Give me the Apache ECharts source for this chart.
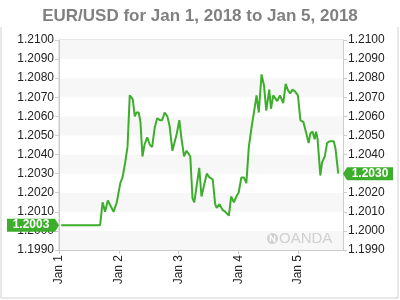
<!DOCTYPE html>
<html>
<head>
<meta charset="utf-8">
<script src="https://cdn.jsdelivr.net/npm/echarts@6/dist/echarts.min.js"></script>
<style>html,body{margin:0;padding:0;background:#fff}#c{width:400px;height:300px}</style>
</head>
<body>
<div id="c"></div>
<script>
// hours since Jan 1 2018 00:00
var hours = [0.9,16.5,17.5,18.5,19.6,20.3,21.9,23.2,24.6,25.5,26.6,27.5,28.4,29.6,30.4,31.1,32.0,32.7,33.5,34.3,35.4,36.5,37.4,38.4,39.4,40.5,41.4,42.4,43.5,44.4,45.5,46.5,47.3,48.3,49.1,50.2,51.2,51.8,52.7,53.6,54.3,56.3,57.2,59.3,60.4,61.7,62.7,63.3,64.4,65.7,66.8,68.2,69.1,70.2,71.2,72.1,73.2,74.2,75.2,76.2,77.5,78.6,79.3,80.2,81.3,82.3,83.2,84.4,85.1,86.0,86.7,87.6,88.7,89.4,90.0,91.0,91.8,92.8,93.7,94.8,95.9,96.9,98.1,99.1,100.2,100.9,101.8,102.6,103.2,103.8,104.9,105.6,106.7,107.6,108.6,109.4,110.3,111.0,112.1];
var rates = [1.2003,1.2003,1.2015,1.2010,1.2016,1.2016,1.2010,1.2015,1.2025,1.2028,1.2036,1.2044,1.2071,1.2069,1.2060,1.2062,1.2062,1.2057,1.2039,1.2045,1.2049,1.2045,1.2044,1.2054,1.2059,1.2058,1.2058,1.2062,1.2060,1.2055,1.2042,1.2047,1.2051,1.2058,1.2049,1.2039,1.2042,1.2042,1.2039,1.2017,1.2015,1.2033,1.2018,1.2030,1.2028,1.2027,1.2014,1.2012,1.2014,1.2011,1.2010,1.2008,1.2018,1.2015,1.2018,1.2020,1.2028,1.2028,1.2025,1.2044,1.2056,1.2065,1.2071,1.2062,1.2082,1.2076,1.2063,1.2074,1.2064,1.2071,1.2070,1.2068,1.2071,1.2070,1.2067,1.2077,1.2074,1.2072,1.2074,1.2073,1.2071,1.2058,1.2057,1.2052,1.2046,1.2051,1.2052,1.2048,1.2052,1.2048,1.2029,1.2036,1.2039,1.2046,1.2047,1.2046,1.2047,1.2043,1.2030];
var dayTicks = [0,24,48,72,96];
var dayLabels = ['Jan 1','Jan 2','Jan 3','Jan 4','Jan 5'];
var titleText = 'EUR/USD for Jan 1, 2018 to Jan 5, 2018';
var openLabel = '1.2003';
var lastLabel = '1.2030';

var FONT = '"Liberation Sans", Arial, sans-serif';
var GREEN = '#3dae2b';
var chart = echarts.init(document.getElementById('c'));
var seriesData = hours.map(function(h,i){return [h, rates[i]];});

var yCommon = {
  type:'value', min:1.199, max:1.21, interval:0.001,
  axisLine:{show:true, lineStyle:{color:'#cccccc'}},
  axisTick:{show:true, length:4, lineStyle:{color:'#cccccc'}},
  splitLine:{show:false},
  axisLabel:{color:'#222', fontSize:12, fontFamily:FONT, margin:5,
    formatter:function(v){return v.toFixed(4);}}
};
chart.setOption({
  animation:false,
  backgroundColor:'#ffffff',
  title:{text:titleText, left:'center', top:3,
    textStyle:{color:'#808080', fontSize:17, fontWeight:'bold', fontFamily:FONT}},
  grid:{left:59, right:57, top:40, bottom:50, show:true, borderColor:'#cccccc', borderWidth:1, backgroundColor:'transparent'},
  xAxis:{type:'value', min:0, max:114, interval:24,
    axisLine:{show:true, lineStyle:{color:'#cccccc'}},
    axisTick:{show:true, length:4, lineStyle:{color:'#cccccc'}},
    splitLine:{show:false},
    axisLabel:{rotate:90, margin:5, color:'#222', fontSize:12, fontFamily:FONT, showMaxLabel:false,
      formatter:function(v){var i=dayTicks.indexOf(v); return i>=0?dayLabels[i]:'';}}
  },
  yAxis:[
    Object.assign({}, yCommon, {position:'left',
      splitArea:{show:true, areaStyle:{color:['#f7f7f7','#ffffff']}}}),
    Object.assign({}, yCommon, {position:'right', splitArea:{show:false}})
  ],
  series:[{type:'line', data:seriesData, showSymbol:false, symbol:'none',
    lineStyle:{color:GREEN, width:2}, itemStyle:{color:GREEN}, silent:true}]
});

var yOpen = chart.convertToPixel({yAxisIndex:0}, rates[0]);
var yLast = chart.convertToPixel({yAxisIndex:1}, rates[rates.length-1]);
var xr = 343;
chart.setOption({graphic:[
  {type:'polyline', shape:{points:[[1,27],[1,298],[398,298],[398,27]]}, style:{stroke:'#d0d0d0', lineWidth:1, fill:null}, silent:true},
  {type:'polygon', z:100, shape:{points:[[7,yOpen-6.5],[55,yOpen-6.5],[59,yOpen],[55,yOpen+6.5],[7,yOpen+6.5]]}, style:{fill:GREEN}},
  {type:'text', z:101, x:31, y:yOpen, style:{text:openLabel, fill:'#fff', font:'bold 12px '+FONT, align:'center', verticalAlign:'middle'}},
  {type:'polygon', z:100, shape:{points:[[xr,yLast],[347,yLast-6.5],[393,yLast-6.5],[393,yLast+6.5],[347,yLast+6.5]]}, style:{fill:GREEN}},
  {type:'text', z:101, x:370, y:yLast, style:{text:lastLabel, fill:'#fff', font:'bold 12px '+FONT, align:'center', verticalAlign:'middle'}},
  {type:'circle', shape:{cx:272.5, cy:238.5, r:5.5}, style:{fill:'#d0d0d0'}},
  {type:'polyline', shape:{points:[[270.3,241.5],[270.3,235.5],[274.7,241.5],[274.7,235.5]]}, style:{stroke:'#fff', lineWidth:1.3, fill:null}},
  {type:'text', x:279, y:238.5, style:{text:'OANDA', fill:'#d0d0d0', font:'15px '+FONT, verticalAlign:'middle'}}
]});
</script>
</body>
</html>
